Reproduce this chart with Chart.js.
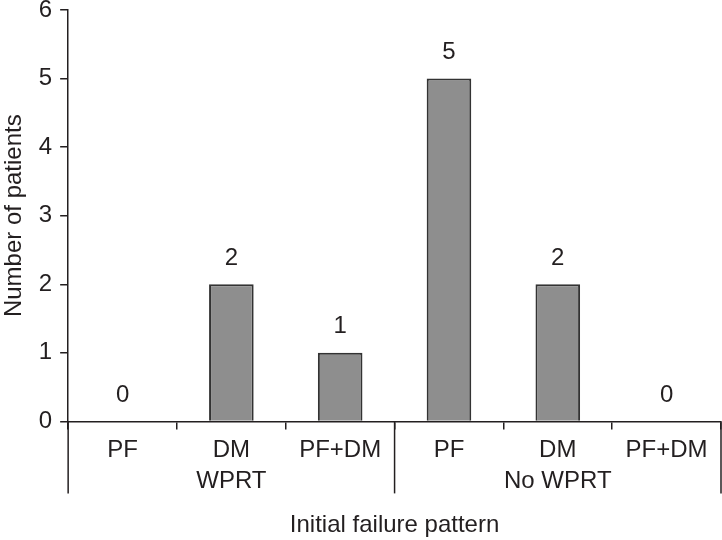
<!DOCTYPE html>
<html>
<head>
<meta charset="utf-8">
<script src="https://cdn.jsdelivr.net/npm/chart.js@4"></script>
<style>
  body { margin: 0; background: #fff; }
  #wrap { width: 722px; height: 540px; }
</style>
</head>
<body>
<div id="wrap"><canvas id="myChart" width="722" height="540"></canvas></div>
<script>
// categories and values
const patterns = ['PF', 'DM', 'PF+DM', 'PF', 'DM', 'PF+DM'];
const groups = ['WPRT', 'No WPRT'];
const groupSize = [3, 3];
const patients = [0, 2, 1, 5, 2, 0];
const yTicks = [0, 1, 2, 3, 4, 5, 6];

const ink = '#231f20';
const fontFam = '"Liberation Sans", Arial, sans-serif';
const fontSize = 24;

// value labels above each bar + group labels and long separators under the axis
const extras = {
  id: 'extras',
  afterDraw(chart) {
    const ctx = chart.ctx;
    const x = chart.scales.x;
    const y = chart.scales.y;
    const meta = chart.getDatasetMeta(0);
    ctx.save();
    ctx.fillStyle = ink;
    ctx.font = fontSize + 'px ' + fontFam;
    ctx.textAlign = 'center';
    ctx.textBaseline = 'middle';
    meta.data.forEach((bar, i) => {
      ctx.fillText(String(patients[i]), bar.x, y.getPixelForValue(patients[i]) - 26);
    });

    const half = (x.getPixelForValue(1) - x.getPixelForValue(0)) / 2;
    const lineBottom = x.top + 72;
    ctx.strokeStyle = ink;
    ctx.lineWidth = 1.5;
    let start = 0;
    const edges = [x.getPixelForValue(0) - half];
    groups.forEach((g, gi) => {
      const end = start + groupSize[gi] - 1;
      const left = x.getPixelForValue(start) - half;
      const right = x.getPixelForValue(end) + half;
      edges.push(right);
      ctx.fillText(g, (left + right) / 2, x.top + 60);
      start = end + 1;
    });
    edges.forEach(px => {
      ctx.beginPath();
      ctx.moveTo(px, x.top);
      ctx.lineTo(px, lineBottom);
      ctx.stroke();
    });
    ctx.restore();
  }
};

new Chart(document.getElementById('myChart'), {
  type: 'bar',
  data: {
    labels: patterns,
    datasets: [{
      data: patients,
      backgroundColor: '#8e8e8e',
      borderColor: '#333333',
      borderWidth: 2,
      borderSkipped: 'bottom',
      categoryPercentage: 1.0,
      barPercentage: 0.41
    }]
  },
  options: {
    responsive: false,
    animation: false,
    layout: { autoPadding: false, padding: { top: 10, right: 1, left: 0, bottom: 0 } },
    plugins: {
      legend: { display: false },
      tooltip: { enabled: false }
    },
    scales: {
      x: {
        grid: {
          drawOnChartArea: false,
          tickLength: 8,
          color: ink,
          lineWidth: 1.5,
          offset: true
        },
        border: { color: ink, width: 1.5 },
        ticks: {
          color: ink,
          padding: 7,
          font: { family: fontFam, size: fontSize }
        },
        title: {
          display: true,
          text: 'Initial failure pattern',
          color: ink,
          padding: { top: 39, bottom: 0 },
          font: { family: fontFam, size: fontSize }
        }
      },
      y: {
        min: 0,
        max: 6,
        afterBuildTicks(axis) {
          axis.ticks = yTicks.map(v => ({ value: v }));
        },
        grid: {
          drawOnChartArea: false,
          tickLength: 8,
          color: ink,
          lineWidth: 1.5
        },
        border: { color: ink, width: 1.5 },
        ticks: {
          color: ink,
          padding: 8,
          // small line height so the top label does not push the plot down
          font: { family: fontFam, size: fontSize, lineHeight: 0.1 }
        },
        title: {
          display: true,
          text: 'Number of patients',
          color: ink,
          padding: { top: 0, bottom: 2 },
          font: { family: fontFam, size: fontSize }
        }
      }
    }
  },
  plugins: [extras]
});
</script>
</body>
</html>
